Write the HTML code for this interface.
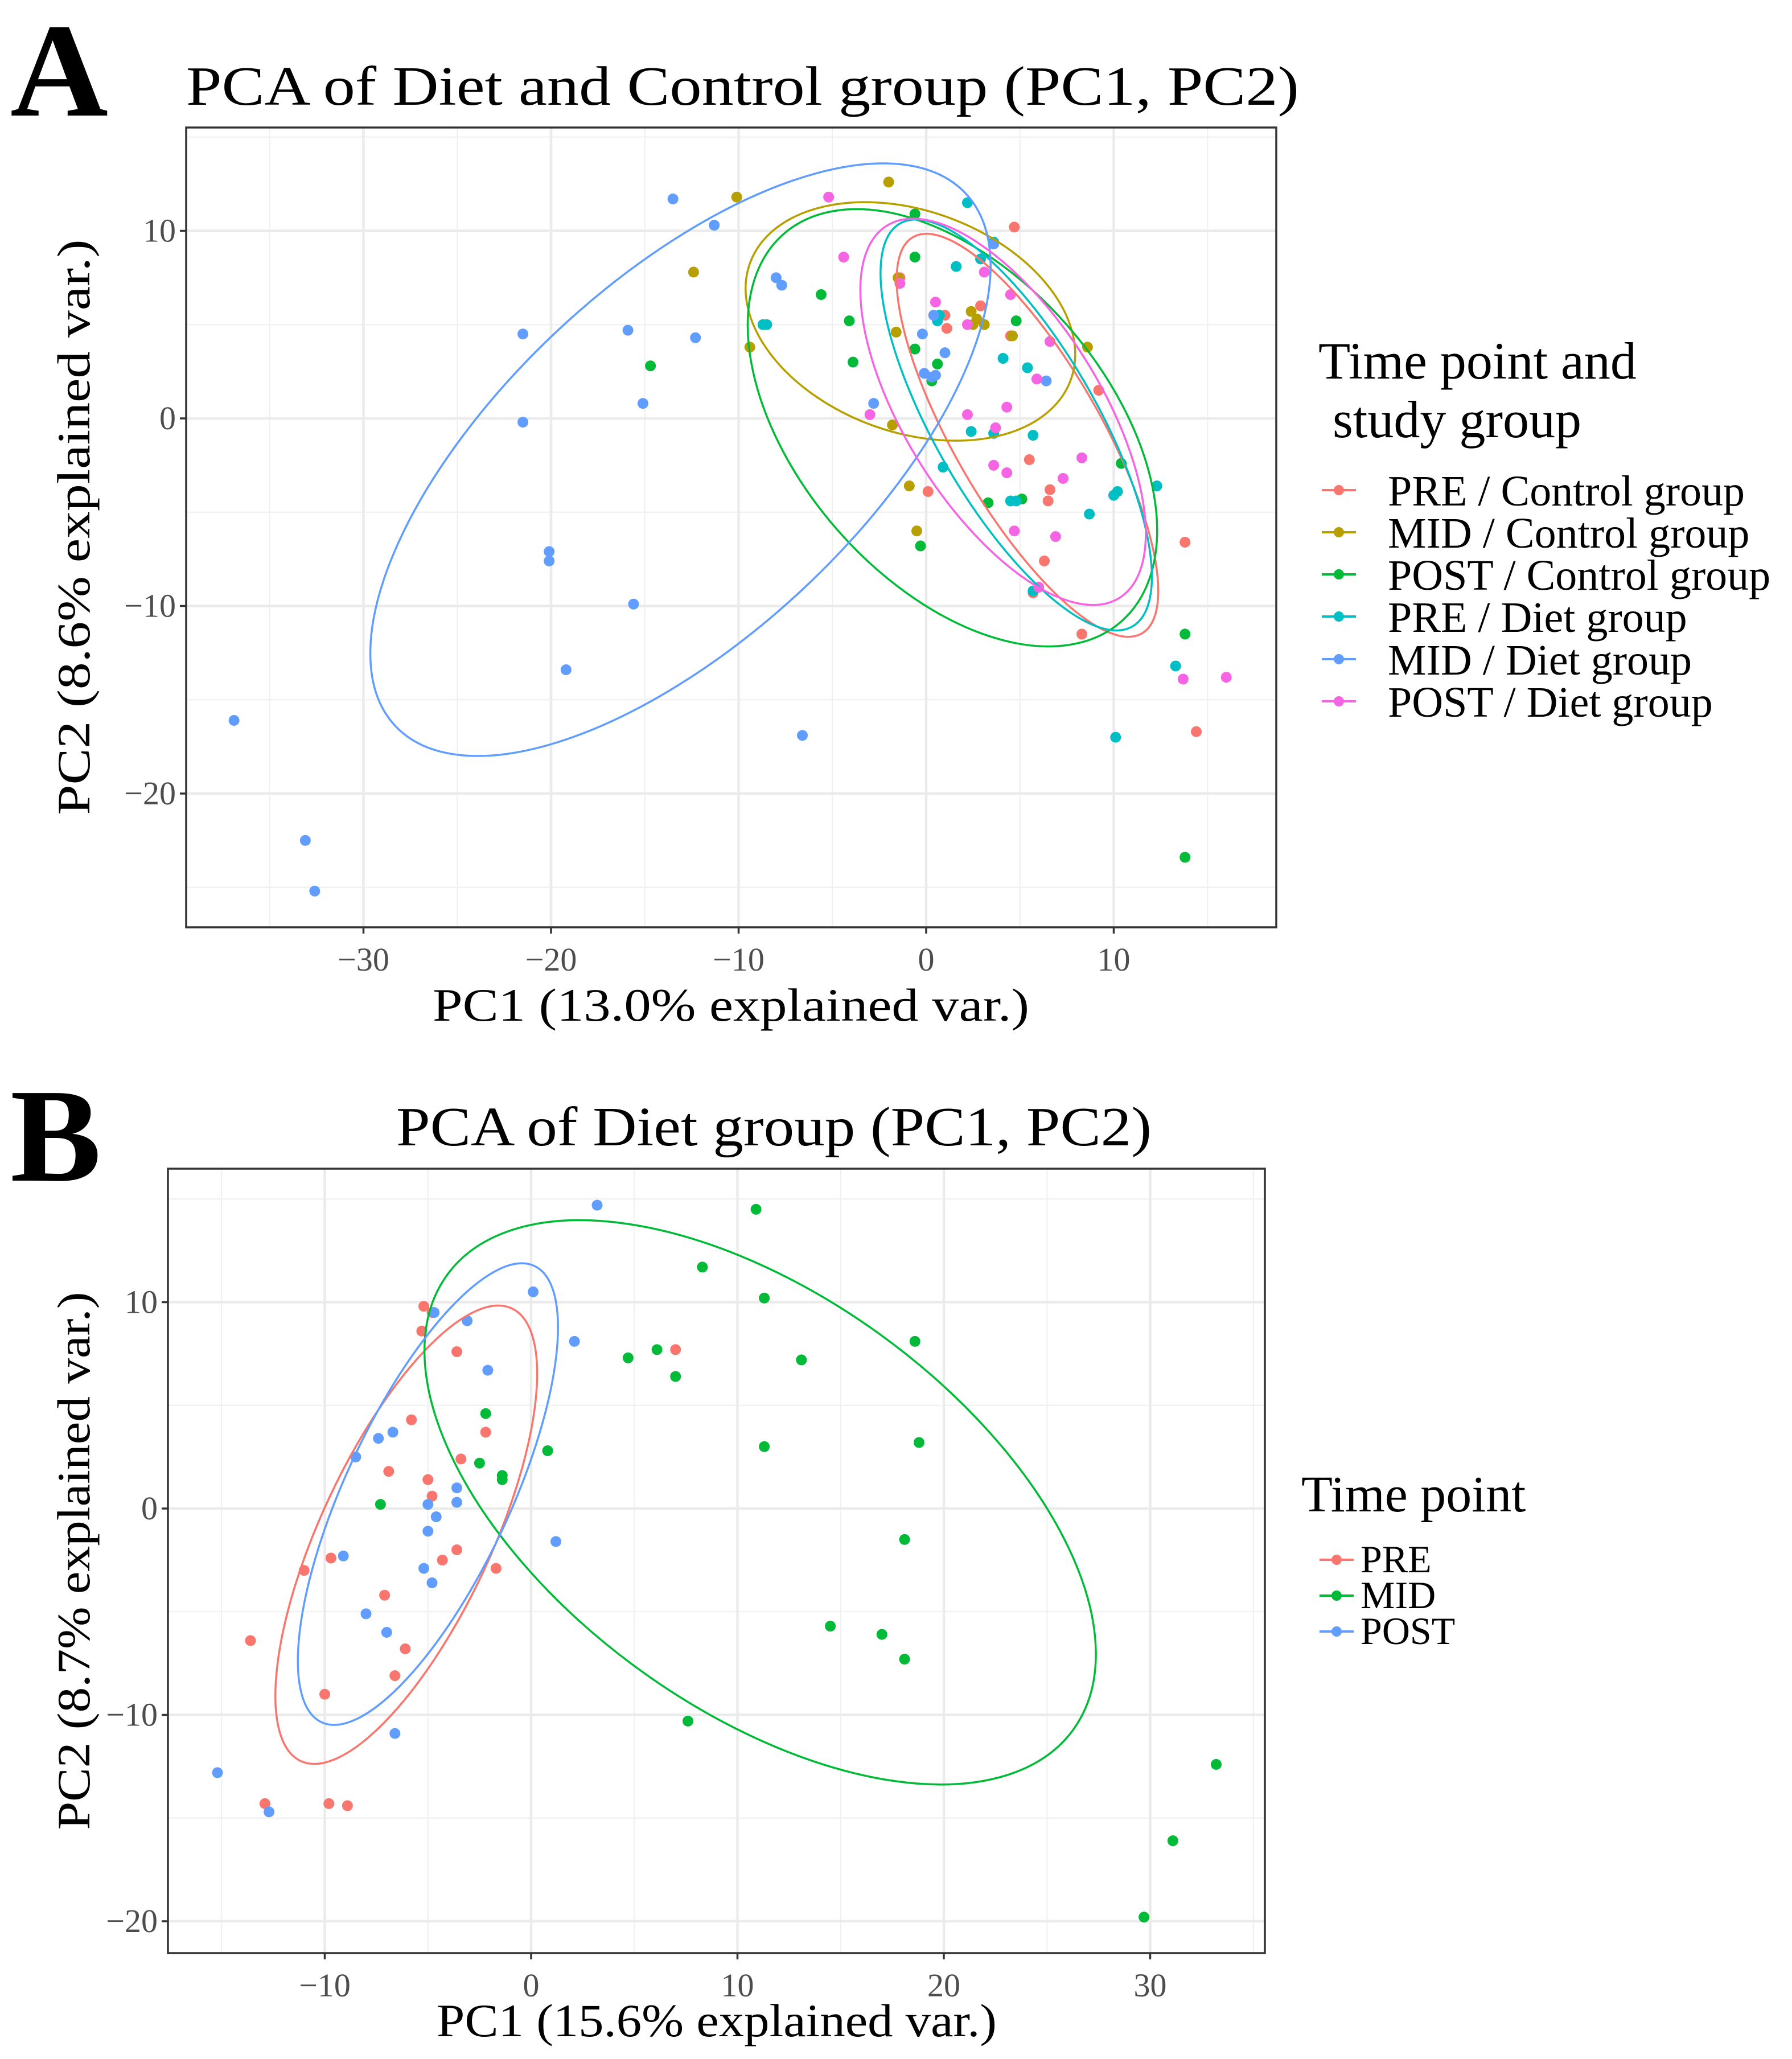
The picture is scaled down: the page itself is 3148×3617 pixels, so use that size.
<!DOCTYPE html>
<html><head><meta charset="utf-8">
<style>
html,body{margin:0;padding:0;background:#fff;}
svg{display:block;font-family:"Liberation Serif","Times New Roman",serif;}
</style></head>
<body>
<svg id="chart" width="3148" height="3617" viewBox="0 0 3148 3617" xmlns="http://www.w3.org/2000/svg">
  <rect width="3148" height="3617" fill="#fff"/>
  <g id="panelA"></g>
  <g id="panelB"></g>
</svg>
<script>
// ---------- Panel A data ----------
const aGroups = ["PRE / Control group","MID / Control group","POST / Control group","PRE / Diet group","MID / Diet group","POST / Diet group"];
const aColors = ["#F8766D","#B79F00","#00BA38","#00BFC4","#619CFF","#F564E3"];
const aPreCtrlX = [4.7,-1.4,0.1,1.1,1.0,2.9,9.2,6.6,6.5,6.3,5.5,8.3,13.8,14.4,5.7,4.5];
const aPreCtrlY = [10.2,7.5,-3.9,4.8,5.5,6.0,1.5,-3.8,-4.4,-7.6,-2.2,-11.5,-6.6,-16.7,-9.3,4.4];
const aMidCtrlX = [-10.1,-2.0,-12.4,-9.4,-1.6,-1.5,-1.8,-0.9,-0.5,2.4,2.7,2.5,4.6,8.6,3.1];
const aMidCtrlY = [11.8,12.6,7.8,3.8,4.6,7.5,-0.35,-3.6,-6.0,5.7,5.3,5.0,4.4,3.8,5.0];
const aPostCtrlX = [-0.6,-0.6,-5.6,-4.1,-3.9,-14.7,-0.6,0.6,0.3,4.8,-0.3,3.3,5.1,10.4,13.8,13.8];
const aPostCtrlY = [10.9,8.6,6.6,5.2,3.0,2.8,3.7,2.9,2.0,5.2,-6.8,-4.5,-4.3,-2.4,-11.5,-23.4];
const aPreDietX = [2.2,1.6,2.9,3.6,-8.5,-8.7,0.6,0.7,4.1,5.4,2.4,3.6,5.7,0.9,4.5,4.8,8.7,10.0,10.2,12.3,13.3,10.1,5.7];
const aPreDietY = [11.5,8.1,8.5,9.4,5.0,5.0,5.2,5.5,3.2,2.7,-0.7,-0.8,-0.9,-2.6,-4.4,-4.4,-5.1,-4.1,-3.9,-3.6,-13.2,-17.0,-9.2];
const aMidDietX = [-13.5,-11.3,-8.0,-7.7,-21.5,-15.9,-12.3,-15.1,-21.5,-20.1,-20.1,-15.6,-19.2,-6.6,-36.9,-33.1,-32.6,-2.8,-0.2,-0.1,0.3,0.5,1.0,6.4,3.6,0.4];
const aMidDietY = [11.7,10.3,7.5,7.1,4.5,4.7,4.3,0.8,-0.2,-7.1,-7.6,-9.9,-13.4,-16.9,-16.1,-22.5,-25.2,0.8,4.5,2.4,2.2,2.3,3.5,2.0,9.3,5.5];
const aPostDietX = [-5.2,-4.4,-1.4,0.5,2.2,4.5,3.1,5.9,4.3,2.2,-3.0,3.7,3.6,4.3,7.3,8.3,4.7,6.9,6.0,13.7,16.0,6.6];
const aPostDietY = [11.8,8.6,7.2,6.2,5.0,6.6,7.8,2.1,0.6,0.2,0.2,-0.5,-2.5,-2.9,-3.2,-2.1,-6.0,-6.3,-9.0,-13.9,-13.8,4.1];
// ellipses: centre x, centre y, semi-major, semi-minor, rotation (deg, + = down-right)
const aEllCx = [5.4,-0.84,1.4,4.8,-13.1,4.1];
const aEllCy = [-0.9,5.17,-0.5,-0.35,-2.2,0.35];
const aEllA = [12.2,9.1,13.7,12.4,20.8,11.7];
const aEllB = [3.9,5.9,8.2,4.3,9.5,5.2];
const aEllRot = [60,20,49,60,-43,58];
const aXTicks = [-30,-20,-10,0,10];
const aYTicks = [10,0,-10,-20];
const aXMinor = [-35,-25,-15,-5,5,15];
const aYMinor = [15,5,-5,-15,-25];

// ---------- Panel B data ----------
const bGroups = ["PRE","MID","POST"];
const bColors = ["#F8766D","#00BA38","#619CFF"];
const bPreX = [-5.2,-5.3,-3.6,7.0,-5.8,-2.2,-6.9,-5.0,-4.8,-3.4,-3.6,-4.3,-1.7,-11.0,-9.7,-7.1,-6.1,-6.6,-13.6,-10.0,-9.8,-8.9,-12.9,-4.8];
const bPreY = [9.8,8.6,7.6,7.7,4.3,3.7,1.8,1.4,0.6,2.4,-2.0,-2.5,-2.9,-3.0,-2.4,-4.2,-6.8,-8.1,-6.4,-9.0,-14.3,-14.4,-14.3,9.5];
const bMidX = [10.9,8.3,11.3,18.6,4.7,6.1,7.0,13.1,-2.2,-2.5,-1.4,-1.4,0.8,11.3,18.8,-7.3,18.1,14.5,17.0,18.1,7.6,29.7,31.1,33.2];
const bMidY = [14.5,11.7,10.2,8.1,7.3,7.7,6.4,7.2,4.6,2.2,1.6,1.4,2.8,3.0,3.2,0.2,-1.5,-5.7,-6.1,-7.3,-10.3,-19.8,-16.1,-12.4];
const bPostX = [3.2,0.1,2.1,-3.1,-4.7,-2.1,-6.7,-7.4,-8.5,-3.6,-3.6,-5.0,-4.6,-5.0,1.2,-9.1,-5.2,-4.8,-8.0,-7.0,-6.6,-15.2,-12.7];
const bPostY = [14.7,10.5,8.1,9.1,9.5,6.7,3.7,3.4,2.5,1.0,0.3,0.2,-0.4,-1.1,-1.6,-2.3,-2.9,-3.6,-5.1,-6.0,-10.9,-12.8,-14.7];
const bEllCx = [-6.05,11.1,-5.0];
const bEllCy = [-1.27,0.3,0.7];
const bEllA = [12.1,18.75,12.2];
const bEllB = [4.14,10.0,4.0];
const bEllRot = [-65,36,-65];
const bXTicks = [-10,0,10,20,30];
const bYTicks = [10,0,-10,-20];
const bXMinor = [-15,-5,5,15,25,35];
const bYMinor = [15,5,-5,-15];

const NS = "http://www.w3.org/2000/svg";
function mk(parent, tag, attrs, text){
  const e = document.createElementNS(NS, tag);
  for (const k in attrs) e.setAttribute(k, attrs[k]);
  if (text !== undefined) e.textContent = text;
  parent.appendChild(e);
  return e;
}

function drawPanel(g, cfg){
  const {L,R,T,B,x0,y0,unit} = cfg;
  const sx = v => x0 + v*unit;
  const sy = v => y0 - v*unit;
  const bg = mk(g,'rect',{x:L,y:T,width:R-L,height:B-T,fill:'#fff'});
  
  
  const grid = mk(g,'g',{});
  
  
  cfg.xMinor.forEach(v=>{ mk(grid,'line',{x1:sx(v),x2:sx(v),y1:T,y2:B,stroke:'#f0f0f0','stroke-width':2.2}); });
  cfg.yMinor.forEach(v=>{ mk(grid,'line',{x1:L,x2:R,y1:sy(v),y2:sy(v),stroke:'#f0f0f0','stroke-width':2.2}); });
  cfg.xTicks.forEach(v=>{ mk(grid,'line',{x1:sx(v),x2:sx(v),y1:T,y2:B,stroke:'#ebebeb','stroke-width':4.5}); });
  cfg.yTicks.forEach(v=>{ mk(grid,'line',{x1:L,x2:R,y1:sy(v),y2:sy(v),stroke:'#ebebeb','stroke-width':4.5}); });

  cfg.xs.forEach((xa,gi)=>{
    const pg = mk(g,'g',{});
    
    
    xa.forEach((xv,i)=>{
      const c = mk(pg,'circle',{cx:sx(xv),cy:sy(cfg.ys[gi][i]),r:9.5,fill:cfg.colors[gi]});
      
      
    });
  });
  cfg.ecx.forEach((cx,i)=>{
    const px = sx(cx), py = sy(cfg.ecy[i]);
    const e = mk(g,'ellipse',{cx:px,cy:py,rx:cfg.ea[i]*unit,ry:cfg.eb[i]*unit,fill:'none',stroke:cfg.colors[i],'stroke-width':3.5,transform:`rotate(${cfg.erot[i]} ${px} ${py})`});
    
    
  });
  const br = mk(g,'rect',{x:L,y:T,width:R-L,height:B-T,fill:'none',stroke:'#333','stroke-width':3.5});
  
  
  cfg.xTicks.forEach(v=>{
    mk(g,'line',{x1:sx(v),x2:sx(v),y1:B,y2:B+11,stroke:'#333','stroke-width':3.5});
    const t = mk(g,'text',{x:sx(v),y:cfg.xTickY,'text-anchor':'middle','font-size':58,fill:'#4d4d4d'}, v<0?'\u2212'+Math.abs(v):String(v));
    
    
  });
  cfg.yTicks.forEach(v=>{
    mk(g,'line',{x1:L-11,x2:L,y1:sy(v),y2:sy(v),stroke:'#333','stroke-width':3.5});
    const t = mk(g,'text',{x:L-18,y:sy(v)+19,'text-anchor':'end','font-size':58,fill:'#4d4d4d'}, v<0?'\u2212'+Math.abs(v):String(v));
    
    
  });
}

const A = document.getElementById('panelA');
drawPanel(A,{prefix:'a',L:327,R:2242,T:224,B:1629,x0:1627,y0:735,unit:32.95,
  xTicks:aXTicks,yTicks:aYTicks,xMinor:aXMinor,yMinor:aYMinor,xTickY:1705,
  xs:[aPreCtrlX,aMidCtrlX,aPostCtrlX,aPreDietX,aMidDietX,aPostDietX],
  ys:[aPreCtrlY,aMidCtrlY,aPostCtrlY,aPreDietY,aMidDietY,aPostDietY],
  colors:aColors,ecx:aEllCx,ecy:aEllCy,ea:aEllA,eb:aEllB,erot:aEllRot});

const B = document.getElementById('panelB');
drawPanel(B,{prefix:'b',L:295,R:2222,T:2053,B:3431,x0:933,y0:2650,unit:36.25,
  xTicks:bXTicks,yTicks:bYTicks,xMinor:bXMinor,yMinor:bYMinor,xTickY:3507,
  xs:[bPreX,bMidX,bPostX],ys:[bPreY,bMidY,bPostY],
  colors:bColors,ecx:bEllCx,ecy:bEllCy,ea:bEllA,eb:bEllB,erot:bEllRot});

function txt(parent,name,attrs,s){
  const t = mk(parent,'text',attrs,s);
  
  
  return t;
}
txt(A,'panel-letter-a',{x:18,y:203,'font-size':235,'font-weight':'bold',textLength:172,lengthAdjust:'spacingAndGlyphs'},'A');
txt(A,'title-a',{x:327,y:184,'font-size':98,textLength:1955,lengthAdjust:'spacingAndGlyphs'},'PCA of Diet and Control group (PC1, PC2)');
txt(A,'x-axis-title-a',{x:760,y:1793,'font-size':82,textLength:1048,lengthAdjust:'spacingAndGlyphs'},'PC1 (13.0% explained var.)');
txt(A,'y-axis-title-a',{x:0,y:0,'font-size':82,textLength:1011,lengthAdjust:'spacingAndGlyphs','text-anchor':'middle',transform:'translate(157,926) rotate(-90)'},'PC2 (8.6% explained var.)');
txt(A,'legend-title-a-1',{x:2316,y:665,'font-size':92},'Time point and');
txt(A,'legend-title-a-2',{x:2341,y:768,'font-size':92},'study group');
const aLegY = [888,962,1036,1110,1185,1259];
const aLegW = [640,648,690,530,540,580];
aGroups.forEach((name,i)=>{
  const lg = mk(A,'g',{});
  
  
  mk(lg,'line',{x1:2322,x2:2382,y1:aLegY[i]-27,y2:aLegY[i]-27,stroke:aColors[i],'stroke-width':4});
  mk(lg,'circle',{cx:2352,cy:aLegY[i]-27,r:9,fill:aColors[i]});
  mk(lg,'text',{x:2438,y:aLegY[i],'font-size':76},name);
});

txt(B,'panel-letter-b',{x:18,y:2074,'font-size':235,'font-weight':'bold',textLength:160,lengthAdjust:'spacingAndGlyphs'},'B');
txt(B,'title-b',{x:696,y:2012,'font-size':98,textLength:1327,lengthAdjust:'spacingAndGlyphs'},'PCA of Diet group (PC1, PC2)');
txt(B,'x-axis-title-b',{x:767,y:3577,'font-size':82,textLength:984,lengthAdjust:'spacingAndGlyphs'},'PC1 (15.6% explained var.)');
txt(B,'y-axis-title-b',{x:0,y:0,'font-size':82,textLength:945,lengthAdjust:'spacingAndGlyphs','text-anchor':'middle',transform:'translate(157,2742) rotate(-90)'},'PC2 (8.7% explained var.)');
txt(B,'legend-title-b',{x:2286,y:2655,'font-size':90},'Time point');
const bLegY = [2762,2825,2888];
bGroups.forEach((name,i)=>{
  const lg = mk(B,'g',{});
  
  
  mk(lg,'line',{x1:2318,x2:2378,y1:bLegY[i]-22,y2:bLegY[i]-22,stroke:bColors[i],'stroke-width':4});
  mk(lg,'circle',{cx:2348,cy:bLegY[i]-22,r:9,fill:bColors[i]});
  mk(lg,'text',{x:2390,y:bLegY[i],'font-size':68},name);
});
</script>
</body></html>
